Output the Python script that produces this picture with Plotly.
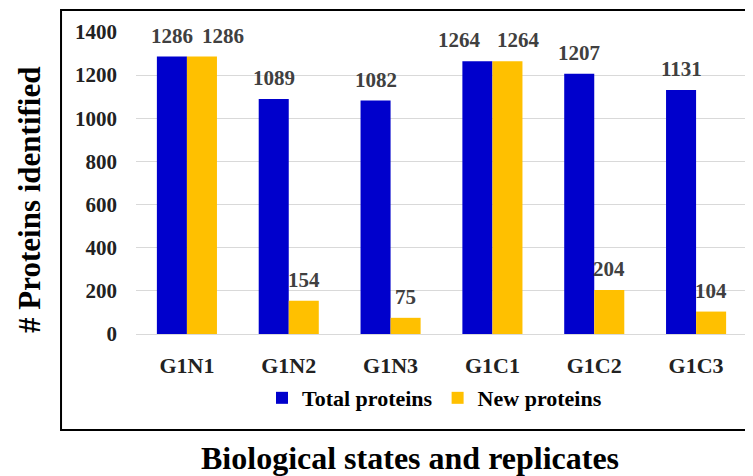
import plotly.graph_objects as go

categories = ["G1N1", "G1N2", "G1N3", "G1C1", "G1C2", "G1C3"]
total_proteins = [1286, 1089, 1082, 1264, 1207, 1131]
new_proteins = [1286, 154, 75, 1264, 204, 104]
y_ticks = [0, 200, 400, 600, 800, 1000, 1200, 1400]

FONT = "Liberation Serif, Times New Roman, serif"
BLUE = "#0000CC"
GOLD = "#FFC000"

# extra horizontal nudges (pixels) for labels that would otherwise collide
nudge_total = {"G1C1": -18}
nudge_new = {"G1N1": 21, "G1C1": 11}

fig = go.Figure()
fig.add_trace(go.Bar(name="Total proteins", x=categories, y=total_proteins,
                     marker=dict(color=BLUE, line=dict(width=0))))
fig.add_trace(go.Bar(name="New proteins", x=categories, y=new_proteins,
                     marker=dict(color=GOLD, line=dict(width=0))))

annotations = []
for series, shift, nudge in ((total_proteins, -15, nudge_total), (new_proteins, 15, nudge_new)):
    for c, v in zip(categories, series):
        annotations.append(dict(x=c, y=v, xref="x", yref="y", text=str(v),
                                showarrow=False, xshift=shift + nudge.get(c, 0), yshift=7,
                                xanchor="center", yanchor="bottom",
                                font=dict(family=FONT, size=21, color="#404040", weight="bold")))

annotations.append(dict(x=-0.1735, y=0.444, xref="paper", yref="paper",
                        text="# Proteins identified", showarrow=False, textangle=-90,
                        xanchor="center", yanchor="middle",
                        font=dict(family=FONT, size=31, color="black", weight="bold")))
annotations.append(dict(x=0.448, y=-0.41, xref="paper", yref="paper",
                        text="Biological states and replicates", showarrow=False,
                        xanchor="center", yanchor="middle",
                        font=dict(family=FONT, size=32, color="black", weight="bold")))

fig.update_layout(
    width=745, height=468,
    margin=dict(l=128, r=6, t=24, b=142, pad=0),
    paper_bgcolor="white", plot_bgcolor="white",
    barmode="group", bargap=0.41, bargroupgap=0,
    font=dict(family=FONT, size=21, color="#222222"),
    showlegend=True,
    legend=dict(orientation="h", x=0.4885, xanchor="center", y=-0.212, yanchor="middle",
                font=dict(family=FONT, size=22, color="black", weight="bold"),
                itemwidth=30, tracegroupgap=0, bgcolor="rgba(0,0,0,0)"),
    annotations=annotations,
    shapes=[dict(type="rect", xref="paper", yref="paper",
                 x0=-0.1227, x1=1.005, y0=-0.318, y1=1.0728,
                 line=dict(color="black", width=2), fillcolor="rgba(0,0,0,0)", layer="below")],
)
fig.update_yaxes(range=[0, 1400], tickvals=y_ticks, showgrid=True, gridcolor="#D9D9D9",
                 gridwidth=1, zeroline=False, showline=False, ticks="",
                 ticklabelstandoff=18,
                 tickfont=dict(family=FONT, size=21, color="#222222", weight="bold"))
fig.update_xaxes(showline=True, linecolor="#D9D9D9", linewidth=1, ticks="",
                 ticklabelstandoff=12,
                 tickfont=dict(family=FONT, size=22, color="#222222", weight="bold"))

fig.write_html("out.html")
